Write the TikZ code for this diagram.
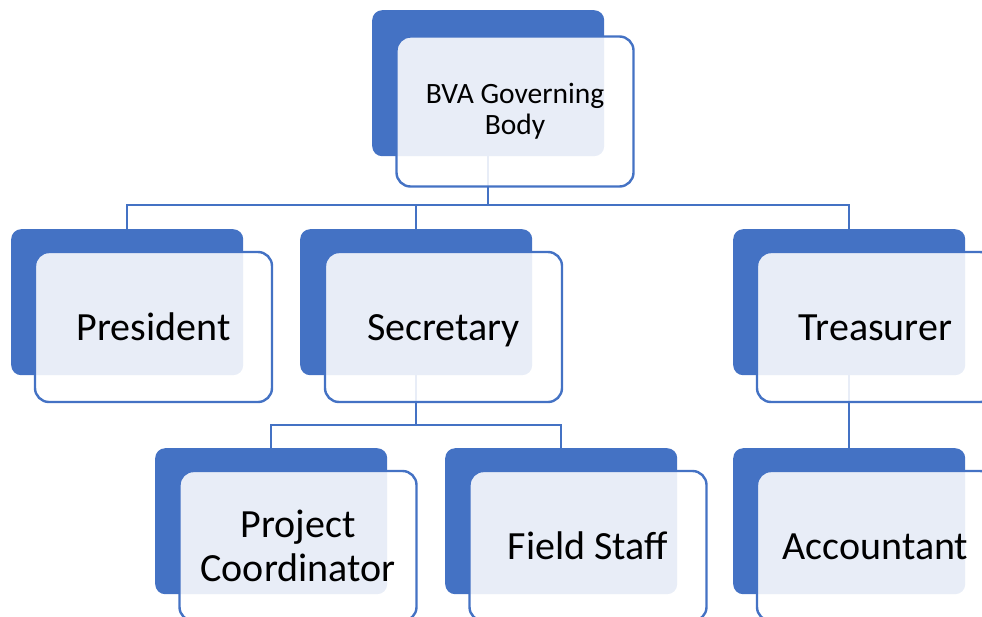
\documentclass[tikz,border=0pt]{standalone}
\usepackage{fontspec}
\setmainfont{Carlito}
\definecolor{acc}{HTML}{4472C4}
\tikzset{
  backbox/.style={draw=none, fill=acc, rounded corners=10pt, minimum width=232pt, minimum height=146pt, inner sep=0pt, anchor=north west},
  frontbox/.style={draw=acc, line width=2.4pt, fill=white, fill opacity=0.88, text opacity=1, rounded corners=14pt, minimum width=237pt, minimum height=150pt, inner sep=0pt, align=center, text=black},
  bigtxt/.style={font=\fontsize{40}{44}\selectfont},
  onetxt/.style={font=\fontsize{40}{44}\selectfont, text height=26pt, text depth=0pt},
  smalltxt/.style={font=\fontsize{29.5}{31}\selectfont},
  conn/.style={draw=acc, line width=2.4pt}
}
\begin{document}
\begin{tikzpicture}[x=1pt,y=-1pt]
\useasboundingbox (0,0) rectangle (982,616);
\clip (0,0) rectangle (982,616);
% back boxes
\node[backbox] (bTop) at (372,10) {};
\node[backbox] (bPres) at (11,229) {};
\node[backbox] (bSec) at (300,229) {};
\node[backbox] (bTre) at (733,229) {};
\node[backbox] (bPC) at (155,448) {};
\node[backbox] (bFS) at (445,448) {};
\node[backbox] (bAcc) at (733,448) {};
% connectors
\draw[conn] (bTop.south) -- (bTop.south |- 0,205);
\draw[conn] (bPres.north) -- (bPres.north |- 0,205) -| (bTre.north);
\draw[conn] (bSec.north) -- (bSec.north |- 0,205);
\draw[conn] (bSec.south) -- (bSec.south |- 0,425);
\draw[conn] (bPC.north) -- (bPC.north |- 0,425) -| (bFS.north);
\draw[conn] (bTre.south) -- (bAcc.north);
% front boxes
\node[frontbox, smalltxt] (fTop) at (515,111.5) {BVA Governing\\Body};
\node[frontbox, onetxt] (fPres) at (153.5,327) {President};
\node[frontbox, onetxt] (fSec) at (443.5,327) {Secretary};
\node[frontbox, onetxt] (fTre) at (875.5,327) {Treasurer};
\node[frontbox, bigtxt] (fPC) at (298,546) {Project\\Coordinator};
\node[frontbox, onetxt] (fFS) at (588,546) {Field Staff};
\node[frontbox, onetxt] (fAcc) at (875.5,546) {Accountant};
\end{tikzpicture}
\end{document}
